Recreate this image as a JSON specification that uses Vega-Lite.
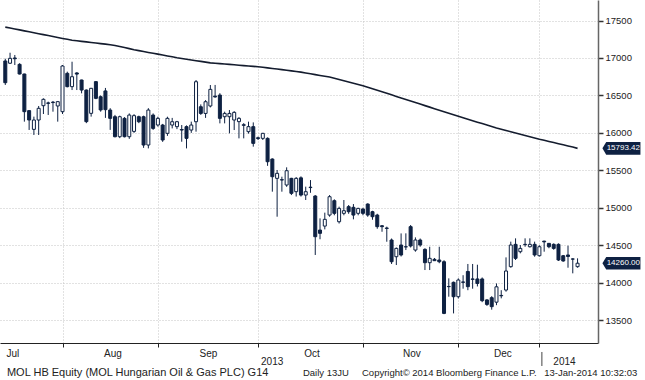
{
  "$schema": "https://vega.github.io/schema/vega-lite/v6.json",
  "width": 598,
  "height": 343,
  "padding": 0,
  "background": "#ffffff",
  "config": {"view": {"stroke": null}, "font": "Liberation Sans"},
  "data": {"values": [
    {"i":0,"o":16960,"h":16990,"l":16640,"c":16670,"ma":17412},
    {"i":1,"o":16930,"h":17070,"l":16920,"c":16995,"ma":17400},
    {"i":2,"o":17000,"h":17040,"l":16906,"c":16990,"ma":17387},
    {"i":3,"o":16915,"h":16930,"l":16780,"c":16786,"ma":17375},
    {"i":4,"o":16786,"h":16790,"l":16150,"c":16283,"ma":17362},
    {"i":5,"o":16297,"h":16300,"l":16039,"c":16172,"ma":17349},
    {"i":6,"o":16047,"h":16217,"l":15972,"c":16172,"ma":17337},
    {"i":7,"o":16172,"h":16359,"l":15972,"c":16328,"ma":17324},
    {"i":8,"o":16363,"h":16461,"l":16252,"c":16448,"ma":17312},
    {"i":9,"o":16400,"h":16417,"l":16239,"c":16395,"ma":17299},
    {"i":10,"o":16410,"h":16426,"l":16283,"c":16405,"ma":17287},
    {"i":11,"o":16359,"h":16426,"l":16150,"c":16417,"ma":17274},
    {"i":12,"o":16283,"h":16906,"l":16252,"c":16893,"ma":17261},
    {"i":13,"o":16795,"h":16817,"l":16608,"c":16617,"ma":17249},
    {"i":14,"o":16617,"h":16950,"l":16572,"c":16750,"ma":17237},
    {"i":15,"o":16800,"h":16810,"l":16572,"c":16785,"ma":17230},
    {"i":16,"o":16706,"h":16710,"l":16528,"c":16572,"ma":17222},
    {"i":17,"o":16572,"h":16580,"l":16130,"c":16150,"ma":17215},
    {"i":18,"o":16261,"h":16600,"l":16217,"c":16595,"ma":17207},
    {"i":19,"o":16684,"h":16690,"l":16450,"c":16461,"ma":17200},
    {"i":20,"o":16483,"h":16500,"l":16283,"c":16306,"ma":17192},
    {"i":21,"o":16560,"h":16600,"l":16200,"c":16310,"ma":17185},
    {"i":22,"o":16305,"h":16330,"l":16040,"c":16194,"ma":17177},
    {"i":23,"o":16216,"h":16240,"l":15940,"c":15949,"ma":17167},
    {"i":24,"o":15949,"h":16230,"l":15930,"c":16216,"ma":17153},
    {"i":25,"o":16194,"h":16210,"l":15940,"c":15949,"ma":17139},
    {"i":26,"o":15949,"h":16260,"l":15920,"c":16238,"ma":17125},
    {"i":27,"o":16020,"h":16250,"l":16000,"c":16230,"ma":17110},
    {"i":28,"o":16216,"h":16230,"l":16130,"c":16149,"ma":17098},
    {"i":29,"o":16216,"h":16230,"l":15800,"c":15838,"ma":17086},
    {"i":30,"o":15838,"h":16330,"l":15793,"c":16305,"ma":17074},
    {"i":31,"o":16238,"h":16260,"l":16040,"c":16060,"ma":17063},
    {"i":32,"o":16105,"h":16216,"l":16083,"c":16194,"ma":17051},
    {"i":33,"o":16105,"h":16120,"l":15880,"c":15905,"ma":17039},
    {"i":34,"o":15994,"h":16216,"l":15960,"c":16194,"ma":17027},
    {"i":35,"o":16105,"h":16200,"l":16060,"c":16149,"ma":17016},
    {"i":36,"o":16083,"h":16160,"l":16050,"c":16149,"ma":17004},
    {"i":37,"o":16045,"h":16105,"l":15882,"c":16038,"ma":16994},
    {"i":38,"o":16083,"h":16100,"l":15793,"c":15927,"ma":16984},
    {"i":39,"o":16038,"h":16150,"l":16000,"c":16105,"ma":16974},
    {"i":40,"o":16149,"h":16706,"l":16016,"c":16683,"ma":16964},
    {"i":41,"o":16349,"h":16380,"l":16240,"c":16260,"ma":16955},
    {"i":42,"o":16260,"h":16438,"l":16200,"c":16416,"ma":16945},
    {"i":43,"o":16359,"h":16639,"l":16340,"c":16581,"ma":16935},
    {"i":44,"o":16490,"h":16640,"l":16470,"c":16480,"ma":16929},
    {"i":45,"o":16505,"h":16530,"l":16127,"c":16194,"ma":16924},
    {"i":46,"o":16216,"h":16283,"l":16127,"c":16260,"ma":16919},
    {"i":47,"o":16216,"h":16305,"l":15994,"c":16260,"ma":16914},
    {"i":48,"o":16172,"h":16290,"l":16038,"c":16274,"ma":16909},
    {"i":49,"o":16150,"h":16210,"l":15927,"c":16194,"ma":16903},
    {"i":50,"o":16100,"h":16130,"l":15927,"c":16110,"ma":16898},
    {"i":51,"o":16016,"h":16150,"l":15990,"c":16083,"ma":16893},
    {"i":52,"o":16083,"h":16140,"l":15816,"c":15860,"ma":16888},
    {"i":53,"o":15935,"h":15950,"l":15905,"c":15925,"ma":16883},
    {"i":54,"o":15927,"h":16000,"l":15905,"c":15994,"ma":16876},
    {"i":55,"o":15927,"h":15940,"l":15560,"c":15615,"ma":16868},
    {"i":56,"o":15651,"h":15660,"l":15215,"c":15415,"ma":16860},
    {"i":57,"o":15393,"h":15504,"l":14881,"c":15460,"ma":16852},
    {"i":58,"o":15375,"h":15415,"l":15215,"c":15371,"ma":16844},
    {"i":59,"o":15304,"h":15540,"l":15280,"c":15495,"ma":16836},
    {"i":60,"o":15393,"h":15400,"l":15170,"c":15193,"ma":16828},
    {"i":61,"o":15215,"h":15410,"l":15150,"c":15393,"ma":16819},
    {"i":62,"o":15400,"h":15420,"l":15150,"c":15170,"ma":16811},
    {"i":63,"o":15170,"h":15282,"l":15104,"c":15215,"ma":16800},
    {"i":64,"o":15275,"h":15370,"l":15200,"c":15270,"ma":16789},
    {"i":65,"o":15157,"h":15170,"l":14370,"c":14614,"ma":16778},
    {"i":66,"o":14703,"h":14859,"l":14580,"c":14659,"ma":16767},
    {"i":67,"o":14756,"h":14935,"l":14712,"c":14846,"ma":16757},
    {"i":68,"o":14903,"h":15170,"l":14881,"c":15148,"ma":16746},
    {"i":69,"o":15095,"h":15113,"l":14900,"c":14926,"ma":16729},
    {"i":70,"o":14814,"h":15015,"l":14790,"c":14992,"ma":16712},
    {"i":71,"o":14926,"h":15104,"l":14900,"c":14961,"ma":16696},
    {"i":72,"o":15015,"h":15037,"l":14920,"c":14948,"ma":16679},
    {"i":73,"o":15006,"h":15050,"l":14846,"c":14903,"ma":16663},
    {"i":74,"o":14926,"h":15000,"l":14900,"c":14992,"ma":16646},
    {"i":75,"o":14983,"h":15000,"l":14900,"c":14926,"ma":16629},
    {"i":76,"o":15050,"h":15060,"l":14880,"c":14903,"ma":16610},
    {"i":77,"o":14948,"h":14960,"l":14840,"c":14881,"ma":16589},
    {"i":78,"o":14903,"h":14920,"l":14720,"c":14748,"ma":16569},
    {"i":79,"o":14760,"h":14770,"l":14680,"c":14748,"ma":16549},
    {"i":80,"o":14730,"h":14748,"l":14547,"c":14725,"ma":16528},
    {"i":81,"o":14570,"h":14590,"l":14250,"c":14280,"ma":16508},
    {"i":82,"o":14347,"h":14470,"l":14236,"c":14458,"ma":16487},
    {"i":83,"o":14503,"h":14658,"l":14350,"c":14370,"ma":16467},
    {"i":84,"o":14480,"h":14659,"l":14436,"c":14478,"ma":16446},
    {"i":85,"o":14748,"h":14770,"l":14470,"c":14490,"ma":16426},
    {"i":86,"o":14436,"h":14605,"l":14414,"c":14570,"ma":16405},
    {"i":87,"o":14570,"h":14590,"l":14480,"c":14503,"ma":16385},
    {"i":88,"o":14445,"h":14460,"l":14169,"c":14267,"ma":16364},
    {"i":89,"o":14267,"h":14480,"l":14169,"c":14325,"ma":16344},
    {"i":90,"o":14312,"h":14330,"l":14290,"c":14294,"ma":16323},
    {"i":91,"o":14303,"h":14480,"l":14260,"c":14280,"ma":16303},
    {"i":92,"o":14280,"h":14300,"l":13580,"c":13590,"ma":16282},
    {"i":93,"o":13950,"h":14058,"l":13813,"c":13947,"ma":16262},
    {"i":94,"o":14005,"h":14015,"l":13590,"c":13813,"ma":16241},
    {"i":95,"o":13813,"h":14058,"l":13790,"c":14036,"ma":16221},
    {"i":96,"o":14010,"h":14100,"l":13920,"c":14005,"ma":16201},
    {"i":97,"o":14150,"h":14250,"l":13900,"c":13947,"ma":16182},
    {"i":98,"o":14050,"h":14250,"l":13920,"c":14045,"ma":16162},
    {"i":99,"o":14050,"h":14240,"l":13950,"c":13990,"ma":16143},
    {"i":100,"o":14050,"h":14070,"l":13740,"c":13760,"ma":16124},
    {"i":101,"o":13770,"h":13780,"l":13690,"c":13710,"ma":16104},
    {"i":102,"o":13800,"h":13820,"l":13640,"c":13680,"ma":16085},
    {"i":103,"o":13740,"h":13990,"l":13700,"c":13945,"ma":16066},
    {"i":104,"o":13830,"h":13900,"l":13791,"c":13825,"ma":16049},
    {"i":105,"o":13902,"h":14338,"l":13880,"c":14156,"ma":16032},
    {"i":106,"o":14214,"h":14548,"l":14200,"c":14503,"ma":16016},
    {"i":107,"o":14512,"h":14592,"l":14303,"c":14325,"ma":15999},
    {"i":108,"o":14414,"h":14503,"l":14392,"c":14458,"ma":15983},
    {"i":109,"o":14512,"h":14592,"l":14480,"c":14508,"ma":15966},
    {"i":110,"o":14480,"h":14592,"l":14470,"c":14512,"ma":15949},
    {"i":111,"o":14512,"h":14548,"l":14347,"c":14370,"ma":15933},
    {"i":112,"o":14360,"h":14500,"l":14350,"c":14480,"ma":15916},
    {"i":113,"o":14555,"h":14560,"l":14414,"c":14545,"ma":15901},
    {"i":114,"o":14525,"h":14530,"l":14460,"c":14480,"ma":15886},
    {"i":115,"o":14512,"h":14525,"l":14440,"c":14458,"ma":15871},
    {"i":116,"o":14512,"h":14525,"l":14290,"c":14303,"ma":15856},
    {"i":117,"o":14360,"h":14370,"l":14280,"c":14290,"ma":15841},
    {"i":118,"o":14370,"h":14494,"l":14200,"c":14350,"ma":15826},
    {"i":119,"o":14317,"h":14325,"l":14125,"c":14315,"ma":15811},
    {"i":120,"o":14214,"h":14325,"l":14200,"c":14260,"ma":15793.42}
  ]},
  "encoding": {
    "x": {
      "field": "i", "type": "quantitative",
      "scale": {"domain": [-0.06, 123.24], "nice": false, "zero": false},
      "axis": {
        "title": null,
        "values": [-0.06, 12, 32, 53, 75, 95, 112],
        "labelExpr": "datum.value < 5 ? 'Jul' : datum.value < 20 ? 'Aug' : datum.value < 40 ? 'Sep' : datum.value < 60 ? 'Oct' : datum.value < 80 ? 'Nov' : datum.value < 100 ? 'Dec' : ''",
        "labelAlign": {"condition": {"test": "datum.value < 5", "value": "left"}, "value": "center"},
        "labelOffset": {"condition": [
          {"test": "datum.value < 5", "value": 1},
          {"test": "datum.value > 90 && datum.value < 100", "value": 44},
          {"test": "datum.value > 70 && datum.value < 80", "value": 48.5},
          {"test": "datum.value > 50 && datum.value < 60", "value": 53.5}
        ], "value": 50},
        "labelFlush": false, "labelOverlap": false, "labelBound": false,
        "labelFont": "Liberation Sans",
        "labelFontSize": 10, "labelColor": "#222222",
        "labelBaseline": "top", "labelPadding": 1,
        "tickSize": 4, "tickColor": "#222222",
        "tickOpacity": {"condition": {"test": "datum.value < 5", "value": 0}, "value": 1},
        "grid": true, "gridColor": "#c4c4c4", "gridDash": [1, 2],
        "gridOpacity": {"condition": {"test": "datum.value < 5", "value": 0}, "value": 1},
        "domainColor": "#222222", "domainWidth": 1
      }
    }
  },
  "layer": [
    {
      "mark": {"type": "rule", "color": "#0e2142", "strokeWidth": 1, "clip": true},
      "encoding": {
        "y": {
          "field": "l", "type": "quantitative",
          "scale": {"domain": [13195, 17774], "nice": false, "zero": false},
          "axis": {
            "title": null, "orient": "right",
            "values": [13500, 14000, 14500, 15000, 15500, 16000, 16500, 17000, 17500],
            "format": "d",
            "labelFont": "Liberation Sans",
            "labelFontSize": 9.5, "labelColor": "#222222", "labelPadding": 2,
            "labelOverlap": false, "labelFlush": false,
            "tickSize": 5, "tickWidth": 1.5, "tickColor": "#333333",
            "grid": true, "gridColor": "#c4c4c4", "gridDash": [1, 2],
            "domainColor": "#666666", "domainWidth": 1.5
          }
        },
        "y2": {"field": "h"}
      }
    },
    {
      "mark": {"type": "bar", "width": 3, "stroke": "#0e2142", "strokeWidth": 1, "clip": true},
      "encoding": {
        "y": {"field": "o", "type": "quantitative"},
        "y2": {"field": "c"},
        "fill": {"condition": {"test": "datum.c >= datum.o", "value": "#ffffff"}, "value": "#0e2142"}
      }
    },
    {
      "mark": {"type": "line", "color": "#141c2e", "strokeWidth": 1.6, "clip": true},
      "encoding": {"y": {"field": "ma", "type": "quantitative"}}
    },
    {
      "transform": [{"filter": "datum.i == 120"}],
      "mark": {"type": "point", "shape": "M-1,0L-0.8,-0.33L1,-0.33L1,0.33L-0.8,0.33Z", "size": 1444, "filled": true, "color": "#0e2142", "opacity": 1},
      "encoding": {"x": {"datum": 129.2}, "y": {"field": "ma", "type": "quantitative"}}
    },
    {
      "transform": [{"filter": "datum.i == 120"}],
      "mark": {"type": "point", "shape": "M-1,0L-0.8,-0.33L1,-0.33L1,0.33L-0.8,0.33Z", "size": 1444, "filled": true, "color": "#0e2142", "opacity": 1},
      "encoding": {"x": {"datum": 129.2}, "y": {"field": "c", "type": "quantitative"}}
    },
    {
      "transform": [{"filter": "datum.i == 120"}],
      "mark": {"type": "text", "align": "center", "baseline": "middle", "color": "#ffffff", "fontSize": 8, "font": "Liberation Sans"},
      "encoding": {"x": {"datum": 129.6}, "y": {"field": "ma", "type": "quantitative"}, "text": {"field": "ma", "format": ".2f"}}
    },
    {
      "transform": [{"filter": "datum.i == 120"}],
      "mark": {"type": "text", "align": "center", "baseline": "middle", "color": "#ffffff", "fontSize": 8, "font": "Liberation Sans"},
      "encoding": {"x": {"datum": 129.6}, "y": {"field": "c", "type": "quantitative"}, "text": {"field": "c", "format": ".2f"}}
    },
    {
      "transform": [{"filter": "datum.i == 120"}],
      "mark": {"type": "text", "align": "center", "baseline": "middle", "color": "#222222", "fontSize": 10, "font": "Liberation Sans"},
      "encoding": {"x": {"datum": 55.96}, "y": {"datum": 12945}, "text": {"value": "2013"}}
    },
    {
      "transform": [{"filter": "datum.i == 120"}],
      "mark": {"type": "text", "align": "center", "baseline": "middle", "color": "#222222", "fontSize": 10, "font": "Liberation Sans"},
      "encoding": {"x": {"datum": 117.26}, "y": {"datum": 12945}, "text": {"value": "2014"}}
    },
    {
      "transform": [{"filter": "datum.i == 120"}],
      "mark": {"type": "rule", "color": "#444444", "strokeWidth": 1},
      "encoding": {"x": {"datum": 112.52}, "y": {"datum": 13075}, "y2": {"datum": 12888}}
    },
    {
      "transform": [{"filter": "datum.i == 120"}],
      "mark": {"type": "text", "align": "left", "baseline": "middle", "color": "#222222", "fontSize": 11, "font": "Liberation Sans"},
      "encoding": {"x": {"datum": 0.35}, "y": {"datum": 12794}, "text": {"value": "MOL HB Equity (MOL Hungarian Oil & Gas PLC) G14"}}
    },
    {
      "transform": [{"filter": "datum.i == 120"}],
      "mark": {"type": "text", "align": "left", "baseline": "middle", "color": "#222222", "fontSize": 9.5, "font": "Liberation Sans"},
      "encoding": {"x": {"datum": 62.42}, "y": {"datum": 12794}, "text": {"value": "Daily 13JU"}}
    },
    {
      "transform": [{"filter": "datum.i == 120"}],
      "mark": {"type": "text", "align": "left", "baseline": "middle", "color": "#222222", "fontSize": 9.5, "font": "Liberation Sans"},
      "encoding": {"x": {"datum": 74.8}, "y": {"datum": 12794}, "text": {"value": "Copyright© 2014 Bloomberg Finance L.P."}}
    },
    {
      "transform": [{"filter": "datum.i == 120"}],
      "mark": {"type": "text", "align": "right", "baseline": "middle", "color": "#222222", "fontSize": 9.5, "font": "Liberation Sans"},
      "encoding": {"x": {"datum": 132.52}, "y": {"datum": 12794}, "text": {"value": "13-Jan-2014 10:32:03"}}
    }
  ]
}
